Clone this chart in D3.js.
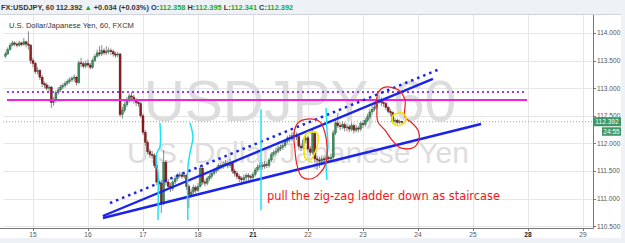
<!DOCTYPE html>
<html><head><meta charset="utf-8">
<script src="https://cdn.jsdelivr.net/npm/d3@7/dist/d3.min.js"></script>
<style>
html,body{margin:0;padding:0;background:#eef1f5;}
svg{display:block;font-family:"Liberation Sans",Arial,sans-serif;}
</style></head>
<body><svg id="c" width="625" height="243"></svg>
<script>
// ---- data ----
const dayLabels = ["15","16","17","18","21","22","23","24","25","28","29"];
const boldDays = ["21","28"];
const priceTicks = [110.5,111.0,111.5,112.0,112.5,113.0,113.5,114.0];
const firstHour = -12;      // first bar hour relative to day "15" 00:00
const firstOpen = 113.58;
const closes = [113.62,113.70,113.78,113.82,113.80,113.78,113.82,113.79,113.84,113.80,
113.78,113.50,113.45,113.30,113.32,113.20,113.08,113.06,113.00,113.02,
112.74,112.78,112.92,112.97,113.02,113.05,113.09,113.12,113.15,113.18,
113.20,113.10,113.46,113.44,113.40,113.45,113.42,113.38,113.50,113.58,
113.64,113.62,113.68,113.64,113.66,113.68,113.66,113.62,113.60,113.62,
112.52,112.60,112.70,112.78,112.86,112.84,112.78,112.74,112.72,112.50,
112.20,112.02,111.85,111.80,111.78,111.60,111.30,111.28,110.92,111.66,
111.30,111.22,111.18,111.30,111.36,111.42,111.43,111.40,111.42,111.22,
111.07,111.12,111.20,111.15,111.22,111.55,111.30,111.28,111.36,111.40,
111.46,111.50,111.54,111.60,111.58,111.62,111.64,111.60,111.66,111.50,
111.46,111.40,111.36,111.34,111.38,111.42,111.40,111.38,111.44,111.52,
111.57,111.60,111.58,111.62,111.60,111.70,111.80,111.83,111.86,111.90,
111.93,111.96,112.04,112.10,112.08,112.14,112.15,112.12,111.95,111.92,
112.06,112.10,111.90,111.84,112.19,111.72,111.70,111.68,111.72,111.70,
111.74,111.72,111.75,112.19,112.37,112.32,112.30,112.34,112.28,112.30,
112.26,112.32,112.24,112.28,112.26,112.36,112.34,112.42,112.48,112.57,
112.62,112.66,112.78,112.80,112.74,112.72,112.65,112.58,112.56,112.40,
112.42,112.38,112.40,112.39];
const highs = [113.66,113.74,113.82,113.86,113.85,113.83,113.86,113.84,113.91,113.86,
114.03,113.80,113.55,113.48,113.38,113.35,113.24,113.12,113.10,113.06,
113.04,112.84,112.96,113.02,113.06,113.09,113.13,113.16,113.20,113.22,
113.25,113.22,113.50,113.55,113.48,113.50,113.52,113.46,113.54,113.62,
113.70,113.76,113.78,113.72,113.76,113.74,113.72,113.70,113.66,113.66,
113.64,112.66,112.76,112.84,112.90,112.93,112.88,112.82,112.80,112.75,
112.54,112.24,112.06,111.90,111.86,111.82,111.64,111.36,111.34,111.88,
111.70,111.36,111.28,111.34,111.42,111.46,111.48,111.47,111.48,111.45,
111.26,111.18,111.25,111.24,111.28,111.60,111.58,111.35,111.40,111.45,
111.50,111.55,111.58,111.64,111.65,111.67,111.70,111.68,111.72,111.68,
111.54,111.50,111.44,111.40,111.44,111.46,111.46,111.44,111.48,111.56,
111.62,111.65,111.66,111.68,111.66,111.74,111.84,111.88,111.92,111.95,
111.98,112.02,112.08,112.14,112.16,112.20,112.22,112.20,112.16,112.00,
112.10,112.16,112.14,111.95,112.26,112.22,111.78,111.76,111.78,111.78,
111.80,111.78,111.82,112.24,112.42,112.55,112.38,112.40,112.38,112.36,
112.34,112.38,112.36,112.34,112.32,112.40,112.42,112.46,112.54,112.62,
112.68,112.72,112.84,112.88,112.84,112.80,112.76,112.68,112.62,112.58,
112.46,112.45,112.43,112.41];
const lows = [113.55,113.60,113.68,113.76,113.76,113.74,113.75,113.76,113.77,113.74,
113.70,113.44,113.38,113.26,113.25,113.15,113.02,113.00,112.96,112.94,
112.64,112.68,112.74,112.88,112.93,112.98,113.01,113.05,113.08,113.11,
113.12,113.05,113.08,113.38,113.36,113.36,113.38,113.34,113.35,113.47,
113.55,113.58,113.58,113.60,113.60,113.62,113.60,113.57,113.55,113.56,
112.48,112.45,112.56,112.66,112.74,112.78,112.72,112.68,112.66,112.46,
112.15,111.96,111.80,111.74,111.72,111.55,111.24,111.15,110.74,110.88,
111.24,111.16,111.12,111.14,111.26,111.32,111.38,111.36,111.36,111.16,
110.83,111.02,111.08,111.10,111.12,111.20,111.25,111.22,111.24,111.32,
111.36,111.42,111.46,111.50,111.53,111.54,111.58,111.55,111.56,111.45,
111.40,111.35,111.30,111.26,111.30,111.32,111.28,111.30,111.34,111.40,
111.48,111.52,111.52,111.54,111.55,111.56,111.66,111.76,111.78,111.82,
111.86,111.88,111.92,112.00,112.02,112.04,112.08,112.06,111.90,111.86,
111.88,112.00,111.85,111.78,111.80,111.66,111.52,111.56,111.60,111.62,
111.64,111.66,111.66,111.72,112.15,112.28,112.24,112.26,112.22,112.22,
112.20,112.22,112.18,112.20,112.20,112.22,112.28,112.30,112.38,112.44,
112.52,112.58,112.62,112.72,112.68,112.66,112.60,112.54,112.50,112.36,
112.36,112.34,112.35,112.35];
const lastPrice = 112.392;
const countdown = "24:55";
// annotations in (hour, price)
const magentaLevel = 112.786, magentaFrom = -11.35, magentaTo = 215.6;
const purpleLevel = 112.93, purpleFrom = -11.35, purpleTo = 214.7;
const channelUpper = [[30.5,110.685],[174.5,113.167]];
const channelLower = [[30.5,110.649],[195.5,112.351]];
const channelDotted = [[33.6,110.92],[177.6,113.348]];
const cyanLines = [
 [[55.4,112.37],[55.4,111.94],[54.1,111.83],[54.1,111.57],[54.5,111.50],[54.5,110.61]],
 [[68.5,112.37],[69.8,112.12],[68.5,111.83],[67.6,111.57],[67.6,110.61]],
 [[99.5,112.62],[99.5,110.79]],
 [[127.9,112.64],[128.3,112.24],[128.7,111.94],[127.9,111.65],[128.3,111.34]]
];
const redLoops = [
 [[119.6,112.44],[125.2,112.39],[127.4,112.19],[128.3,111.94],[127.9,111.65],[125.2,111.46],[121.7,111.36],[117.4,111.39],[115.2,111.61],[114.3,111.88],[113.9,112.19],[115.6,112.37]],
 [[153.6,113.02],[159.3,112.97],[162.3,112.79],[162.3,112.48],[165.4,112.37],[168.0,112.24],[168.4,112.06],[165.8,111.92],[160.2,111.92],[156.7,112.06],[153.6,112.24],[150.5,112.39],[150.1,112.66],[150.5,112.91]]
];
const yellowLoops = [
 [[119.6,112.19],[123.9,112.19],[124.4,112.03],[123.1,111.84],[120.9,111.70],[118.7,111.74],[118.3,111.94],[118.3,112.10]],
 [[157.1,112.51],[161.0,112.55],[162.8,112.46],[161.9,112.37],[159.3,112.32],[157.1,112.37],[156.7,112.44]]
];
const noteText = "pull the zig-zag ladder down as staircase";
const notePos = [102.1, 110.975];

// ---- layout ----
const svg = d3.select("#c");
const L = 3, R = 593, T = 15, B = 228;
const x = d3.scaleLinear().domain([-13.09, 244.36]).range([L, R]);
const y = d3.scaleLinear().domain([110.5, 114.0]).range([226.2, 33]);

svg.append("rect").attr("x",0).attr("y",14).attr("width",621).attr("height",224).attr("fill","#fff");
svg.append("line").attr("x1",0).attr("x2",621).attr("y1",14.5).attr("y2",14.5).attr("stroke","#d0d4da");

const defs = svg.append("defs");
defs.append("clipPath").attr("id","plot").append("rect").attr("x",L).attr("y",T).attr("width",R-L).attr("height",B-T);

const g = svg.append("g").attr("clip-path","url(#plot)");
const dayHours = dayLabels.map((d,i)=>i*24);
g.selectAll(".vg").data(dayHours).join("line")
 .attr("x1",d=>Math.round(x(d))+0.5).attr("x2",d=>Math.round(x(d))+0.5).attr("y1",T).attr("y2",B)
 .attr("stroke","#e6e6e6");
g.selectAll(".hg").data(priceTicks).join("line")
 .attr("x1",L).attr("x2",R).attr("y1",d=>Math.round(y(d))+0.5).attr("y2",d=>Math.round(y(d))+0.5)
 .attr("stroke","#e6e6e6");

// watermark
g.append("text").attr("x",300).attr("y",121).attr("text-anchor","middle")
 .attr("font-size",57).attr("fill","#dddddd").text("USDJPY, 60");
g.append("text").attr("x",298).attr("y",163).attr("text-anchor","middle")
 .attr("font-size",30).attr("fill","#dddddd").text("U.S. Dollar/Japanese Yen");

svg.append("text").attr("x",9).attr("y",28).attr("font-size",7.6).attr("fill","#333")
 .text("U.S. Dollar/Japanese Yen, 60, FXCM");

g.append("line").attr("x1",L).attr("x2",R).attr("y1",y(lastPrice)).attr("y2",y(lastPrice))
 .attr("stroke","#7fb59a").attr("stroke-dasharray","1,2");

// candles
const bars = closes.map((c,i)=>({h:firstHour+i, o: i===0?firstOpen:closes[i-1], c, hi:highs[i], lo:lows[i]}));
const cg = g.append("g");
cg.selectAll(".w").data(bars).join("line")
 .attr("x1",d=>x(d.h)).attr("x2",d=>x(d.h)).attr("y1",d=>y(d.hi)).attr("y2",d=>y(d.lo))
 .attr("stroke","#7a7a7a").attr("stroke-width",0.9);
cg.selectAll(".b").data(bars).join("rect")
 .attr("x",d=>x(d.h)-1).attr("width",2)
 .attr("y",d=>y(Math.max(d.o,d.c)))
 .attr("height",d=>Math.max(1, Math.abs(y(d.o)-y(d.c))))
 .attr("fill",d=>d.c>=d.o?"#3b8d5c":"#8e1d1d")
 .attr("stroke",d=>d.c>=d.o?"#2b6a44":"#6a1212").attr("stroke-width",0.4);

// annotations
const line = d3.line().x(d=>x(d[0])).y(d=>y(d[1]));
g.append("line").attr("x1",x(purpleFrom)).attr("x2",x(purpleTo)).attr("y1",y(purpleLevel)).attr("y2",y(purpleLevel))
 .attr("stroke","#9a3cf0").attr("stroke-width",2).attr("stroke-dasharray","2,3");
g.append("line").attr("x1",x(magentaFrom)).attr("x2",x(magentaTo)).attr("y1",y(magentaLevel)).attr("y2",y(magentaLevel))
 .attr("stroke","#f020e8").attr("stroke-width",2);
g.append("path").attr("d",line(channelDotted)).attr("stroke","#1a22ee").attr("stroke-width",2.5)
 .attr("stroke-dasharray","2.5,4").attr("fill","none");
g.append("path").attr("d",line(channelUpper)).attr("stroke","#1a22ee").attr("stroke-width",2.4).attr("fill","none");
g.append("path").attr("d",line(channelLower)).attr("stroke","#1a22ee").attr("stroke-width",2.4).attr("fill","none");
const curve = d3.line().x(d=>x(d[0])).y(d=>y(d[1])).curve(d3.curveCatmullRom);
g.selectAll(".cy").data(cyanLines).join("path").attr("d",curve)
 .attr("stroke","#1ee3f5").attr("stroke-width",1.5).attr("fill","none");
const closed = d3.line().x(d=>x(d[0])).y(d=>y(d[1])).curve(d3.curveCatmullRomClosed);
g.selectAll(".rl").data(redLoops).join("path").attr("d",closed)
 .attr("stroke","#ee1c1c").attr("stroke-width",1.2).attr("fill","none");
g.selectAll(".yl").data(yellowLoops).join("path").attr("d",closed)
 .attr("stroke","#f2e600").attr("stroke-width",1.6).attr("fill","none");
g.append("text").attr("x",x(notePos[0])).attr("y",y(notePos[1])).attr("font-size",11.4)
 .attr("font-family","'DejaVu Sans',Verdana,sans-serif")
 .attr("fill","#f01818").text(noteText);

// plot border
svg.append("line").attr("x1",R+0.5).attr("x2",R+0.5).attr("y1",T).attr("y2",B+0.5).attr("stroke","#777");
svg.append("line").attr("x1",0).attr("x2",R+0.5).attr("y1",B+0.5).attr("y2",B+0.5).attr("stroke","#777");

// price axis
const pa = svg.append("g");
pa.selectAll("line").data(priceTicks).join("line")
 .attr("x1",R).attr("x2",R+3).attr("y1",d=>Math.round(y(d))+0.5).attr("y2",d=>Math.round(y(d))+0.5).attr("stroke","#777");
pa.selectAll("text").data(priceTicks).join("text")
 .attr("x",R+4).attr("y",d=>y(d)+2.4).attr("font-size",6.6).attr("fill","#555")
 .text(d=>d3.format(".3f")(d));
const ly = y(lastPrice);
svg.append("rect").attr("x",R).attr("y",ly-4.5).attr("width",28).attr("height",9).attr("fill","#3f9668");
svg.append("text").attr("x",R+14).attr("y",ly+2.4).attr("text-anchor","middle").attr("font-size",6.6).attr("fill","#fff").text(lastPrice.toFixed(3));
svg.append("rect").attr("x",R+9).attr("y",ly+5.5).attr("width",19).attr("height",8.5).attr("fill","#3f9668");
svg.append("text").attr("x",R+18.5).attr("y",ly+12).attr("text-anchor","middle").attr("font-size",6.6).attr("fill","#fff").text(countdown);

// time axis
const ta = svg.append("g");
ta.selectAll("line").data(dayHours).join("line")
 .attr("x1",d=>Math.round(x(d))+0.5).attr("x2",d=>Math.round(x(d))+0.5).attr("y1",B).attr("y2",B+3).attr("stroke","#777");
ta.selectAll("text").data(dayLabels).join("text")
 .attr("x",(d,i)=>x(dayHours[i])).attr("y",B+8.5).attr("text-anchor","middle")
 .attr("font-size",6.6).attr("fill",d=>boldDays.includes(d)?"#222":"#555")
 .attr("font-weight",d=>boldDays.includes(d)?"bold":"normal").text(d=>d);

// header
const hd = svg.append("text").attr("x",1).attr("y",10).attr("font-size",7.4).attr("font-weight","bold").attr("fill","#333");
const parts = [["FX:USDJPY, 60 ","#333"],["112.392 ","#333"],["▲ ","#22aa22"],["+0.034 (+0.03%) ","#333"],
 ["O:","#333"],["112.358 ","#22aa22"],["H:","#333"],["112.395 ","#22aa22"],["L:","#333"],["112.341 ","#22aa22"],["C:","#333"],["112.392","#22aa22"]];
parts.forEach(p=>hd.append("tspan").attr("fill",p[1]).text(p[0]));
</script></body></html>
